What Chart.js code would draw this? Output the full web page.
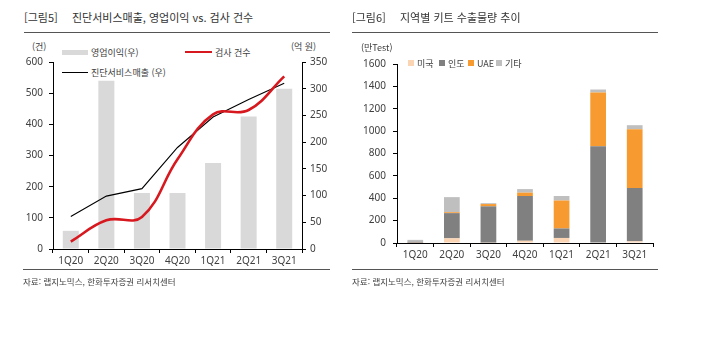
<!DOCTYPE html>
<html lang="ko">
<head>
<meta charset="utf-8">
<script src="https://cdn.jsdelivr.net/npm/chart.js@4.4.1/dist/chart.umd.min.js"></script>
<style>
  html, body { margin: 0; padding: 0; background: #fff; }
  body { width: 720px; height: 337px; position: relative; overflow: hidden;
         font-family: "Noto Sans CJK KR", "Noto Sans", sans-serif; color: #404040; }
  .abs { position: absolute; white-space: nowrap; line-height: 1; }
  .title { font-size: 11px; color: #333; }
  .rule { position: absolute; height: 1px; background: #555; }
  .src { font-size: 8.5px; color: #404040; }
  .unit { font-size: 9px; }
  .lg { font-size: 9px; }
  .sw { position: absolute; }
  canvas { position: absolute; }
</style>
</head>
<body>
  <!-- 그림5 -->
  <div class="abs title" style="left:24px; top:12px;">[그림5]</div>
  <div class="abs title" style="left:72px; top:12px;">진단서비스매출, 영업이익 vs. 검사 건수</div>
  <div class="rule" style="left:24px; top:32px; width:306px;"></div>
  <div class="abs unit" style="left:32px; top:42px;">(건)</div>
  <div class="abs unit" style="left:291px; top:42px;">(억 원)</div>

  <div class="sw" style="left:62px; top:50px; width:26px; height:5px; background:#d9d9d9;"></div>
  <div class="abs lg" style="left:91px; top:48px;">영업이익(우)</div>
  <div class="sw" style="left:185px; top:51px; width:27px; height:2px; background:#d7191f;"></div>
  <div class="abs lg" style="left:215px; top:48px;">검사 건수</div>
  <div class="sw" style="left:62px; top:72px; width:26px; height:1px; background:#000;"></div>
  <div class="abs lg" style="left:91px; top:68px;">진단서비스매출 (우)</div>

  <canvas id="chartLeft" style="left:0; top:0;" width="360" height="270"></canvas>

  <div class="rule" style="left:23px; top:269px; width:307px;"></div>
  <div class="abs src" style="left:23px; top:277px;">자료: 랩지노믹스, 한화투자증권 리서치센터</div>

  <!-- 그림6 -->
  <div class="abs title" style="left:352px; top:12px;">[그림6]</div>
  <div class="abs title" style="left:400px; top:12px;">지역별 키트 수출물량 추이</div>
  <div class="rule" style="left:352px; top:32px; width:306px;"></div>
  <div class="abs unit" style="left:361px; top:43px;">(만Test)</div>

  <div class="sw" style="left:408px; top:60px; width:6px; height:6px; background:#fbd4b4;"></div>
  <div class="abs lg" style="left:417px; top:59px;">미국</div>
  <div class="sw" style="left:439px; top:60px; width:6px; height:6px; background:#808080;"></div>
  <div class="abs lg" style="left:448px; top:59px;">인도</div>
  <div class="sw" style="left:468px; top:60px; width:6px; height:6px; background:#f79b31;"></div>
  <div class="abs lg" style="left:477px; top:59px;">UAE</div>
  <div class="sw" style="left:496px; top:60px; width:6px; height:6px; background:#bfbfbf;"></div>
  <div class="abs lg" style="left:505px; top:59px;">기타</div>

  <canvas id="chartRight" style="left:340px; top:0;" width="330" height="270"></canvas>

  <div class="rule" style="left:352px; top:269px; width:306px;"></div>
  <div class="abs src" style="left:352px; top:277px;">자료: 랩지노믹스, 한화투자증권 리서치센터</div>

<script>
// quarters shared by both charts
const quarters = ["1Q20", "2Q20", "3Q20", "4Q20", "1Q21", "2Q21", "3Q21"];

// 그림5 series
const opProfit = [34, 315, 105, 105, 161, 248, 300];    // 영업이익 (억 원, right axis)
const serviceSales = [61, 99, 113, 190, 247, 280, 310]; // 진단서비스매출 (억 원, right axis)
const testCount = [24, 92, 103, 288, 432, 446, 554];    // 검사 건수 (건, left axis)

// 그림6 series (만Test)
const usKits = [2, 42, 3, 20, 45, 5, 15];
const indiaKits = [10, 225, 325, 400, 85, 860, 476];
const uaeKits = [0, 8, 20, 30, 250, 480, 526];
const otherKits = [16, 135, 8, 32, 40, 27, 36];

Chart.defaults.font.family = '"Noto Sans", "Noto Sans CJK KR", sans-serif';
Chart.defaults.font.size = 10;
Chart.defaults.color = '#404040';
Chart.defaults.animation = false;
Chart.defaults.responsive = false;

// axis helpers: black axis line, short outward ticks, no gridlines
function catAxis(height) {
  return {
    offset: true,
    grid: { display: true, drawOnChartArea: false, drawTicks: true, tickLength: 4, color: '#000', offset: true },
    border: { display: true, color: '#000', width: 1 },
    ticks: { padding: 2, maxRotation: 0 },
    afterFit: s => { s.height = height; }
  };
}

function valAxis(pos, max, step, width, pad) {
  return {
    position: pos,
    min: 0,
    max: max,
    grid: { display: true, drawOnChartArea: false, drawTicks: true, tickLength: 4, color: '#000' },
    border: { display: true, color: '#000', width: 1 },
    ticks: { stepSize: step, padding: pad, callback: v => String(v) },  // plain numbers, no thousands comma
    afterFit: s => { s.width = width; }
  };
}

new Chart(document.getElementById('chartLeft'), {
  type: 'bar',
  data: {
    labels: quarters,
    datasets: [
      { type: 'line', label: '검사 건수', data: testCount, yAxisID: 'y',
        borderColor: '#d7191f', borderWidth: 2.6, tension: 0.4, pointRadius: 0, order: 1 },
      { type: 'line', label: '진단서비스매출 (우)', data: serviceSales, yAxisID: 'y1',
        borderColor: '#000', borderWidth: 1.1, tension: 0, pointRadius: 0, order: 2 },
      { type: 'bar', label: '영업이익(우)', data: opProfit, yAxisID: 'y1',
        backgroundColor: '#d9d9d9', categoryPercentage: 1, barPercentage: 0.45, order: 3 }
    ]
  },
  options: {
    layout: { padding: { top: 62, left: 0, right: 0, bottom: 0 } },
    plugins: { legend: { display: false }, tooltip: { enabled: false } },
    scales: {
      x: catAxis(21),
      y: valAxis('left', 600, 100, 53, 6),
      y1: valAxis('right', 350, 50, 58, 4)
    }
  }
});

new Chart(document.getElementById('chartRight'), {
  type: 'bar',
  data: {
    labels: quarters,
    datasets: [
      { label: '미국', data: usKits, backgroundColor: '#fbd4b4' },
      { label: '인도', data: indiaKits, backgroundColor: '#808080' },
      { label: 'UAE', data: uaeKits, backgroundColor: '#f79b31' },
      { label: '기타', data: otherKits, backgroundColor: '#bfbfbf' }
    ].map(d => Object.assign(d, { categoryPercentage: 1, barPercentage: 0.43 }))
  },
  options: {
    layout: { padding: { top: 64, left: 0, right: 17, bottom: 0 } },
    plugins: { legend: { display: false }, tooltip: { enabled: false } },
    scales: {
      x: Object.assign(catAxis(27), { stacked: true }),
      y: Object.assign(valAxis('left', 1600, 200, 57, 7), { stacked: true })
    }
  }
});
</script>
</body>
</html>
